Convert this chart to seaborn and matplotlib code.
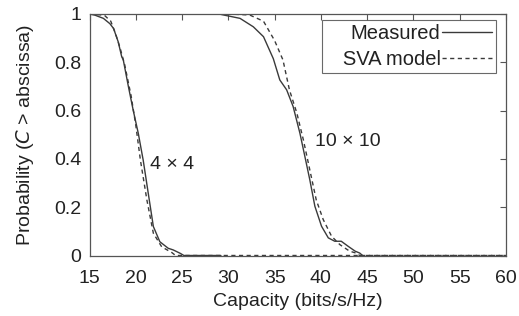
import numpy as np
import pandas as pd
import matplotlib
matplotlib.use("Agg")
import matplotlib.pyplot as plt
import seaborn as sb

# capacity CCDF curves
cap_4x4_meas = [15.0, 15.6, 16.5, 17.2, 17.6, 18.1, 18.48, 18.65, 19.2, 19.73, 20.27, 20.8, 21.35, 21.9, 22.6, 23.5, 24.05, 24.8, 25.2, 29.2]
prob_4x4_meas = [1.0, 0.995, 0.982, 0.96, 0.94, 0.885, 0.823, 0.81, 0.70, 0.60, 0.506, 0.395, 0.257, 0.12, 0.057, 0.03, 0.023, 0.009, 0.0, 0.0]

cap_4x4_sva = [15.0, 16.6, 17.3, 17.8, 18.3, 18.8, 19.5, 20.0, 20.5, 21.2, 21.9, 22.8, 23.9, 24.3, 60.0]
prob_4x4_sva = [1.0, 0.995, 0.97, 0.92, 0.86, 0.79, 0.66, 0.54, 0.395, 0.23, 0.092, 0.036, 0.012, 0.0, 0.0]

cap_10x10_meas = [29.0, 29.6, 31.26, 32.7, 33.8, 34.86, 35.56, 36.3, 37.0, 37.73, 38.27, 38.8, 39.35, 40.07, 40.8, 41.5, 42.2, 42.95, 43.7, 44.2, 44.5]
prob_10x10_meas = [1.0, 0.995, 0.982, 0.947, 0.906, 0.815, 0.727, 0.686, 0.617, 0.507, 0.41, 0.314, 0.204, 0.121, 0.073, 0.059, 0.059, 0.038, 0.018, 0.01, 0.0]

cap_10x10_sva = [15.0, 30.0, 32.3, 33.8, 35.0, 35.9, 36.6, 37.4, 38.1, 38.8, 39.5, 40.25, 41.15, 42.05, 43.1, 43.8, 44.2, 60.0]
prob_10x10_sva = [1.0, 1.0, 0.996, 0.97, 0.89, 0.81, 0.686, 0.59, 0.48, 0.355, 0.23, 0.149, 0.08, 0.045, 0.018, 0.01, 0.0, 0.0]

sb.set_style("white")
plt.rcParams['font.family'] = ['Liberation Sans', 'DejaVu Sans']

fig = plt.figure(figsize=(5.19, 3.16), dpi=100)
ax = fig.add_axes([89.5 / 519, 1 - 255.5 / 316, (506 - 89.5) / 519, (255.5 - 14) / 316])

col = '#3a3a3a'
fs = 14
sb.lineplot(x=cap_4x4_meas, y=prob_4x4_meas, ax=ax, color=col, lw=1.0, label='Measured')
sb.lineplot(x=cap_4x4_sva, y=prob_4x4_sva, ax=ax, color=col, lw=1.0, ls=(0, (3, 2.5)), label='   SVA model')
sb.lineplot(x=cap_10x10_meas, y=prob_10x10_meas, ax=ax, color=col, lw=1.0)
sb.lineplot(x=cap_10x10_sva, y=prob_10x10_sva, ax=ax, color=col, lw=1.0, ls=(0, (3, 2.5)))

ax.set_xlim(15, 60)
ax.set_ylim(0, 1)
ax.set_xticks(np.arange(15, 61, 5))
ax.set_yticks([0, 0.2, 0.4, 0.6, 0.8, 1])
ax.set_yticklabels(['0', '0.2', '0.4', '0.6', '0.8', '1'])
ax.tick_params(direction='in', length=4, width=0.8, color='#555555', top=True, right=True,
               labelsize=fs, labelcolor='#222222')
ax.tick_params(axis='x', pad=10.5)
ax.tick_params(axis='y', pad=6)
for s in ax.spines.values():
    s.set_color('#555555')
    s.set_linewidth(0.9)

ax.set_xlabel('Capacity (bits/s/Hz)', fontsize=fs, color='#222222', labelpad=4)
ax.set_ylabel(r'Probability ($\mathit{C}$ > abscissa)', fontsize=fs, color='#222222', labelpad=13)

ax.text(21.5, 0.376, '4 × 4', fontsize=fs, color='#222222', va='center')
ax.text(39.35, 0.47, '10 × 10', fontsize=fs, color='#222222', va='center')

leg = ax.legend(loc='upper right', markerfirst=False, fontsize=14.5, frameon=True, fancybox=False,
                edgecolor='#444444', borderpad=0.2, handlelength=2.5, handletextpad=0.05,
                labelspacing=0.35, borderaxespad=0.0, bbox_to_anchor=(0.976, 0.975))
leg.get_frame().set_linewidth(0.8)
for t in leg.get_texts():
    t.set_color('#222222')

plt.savefig('out.png', dpi=100)
